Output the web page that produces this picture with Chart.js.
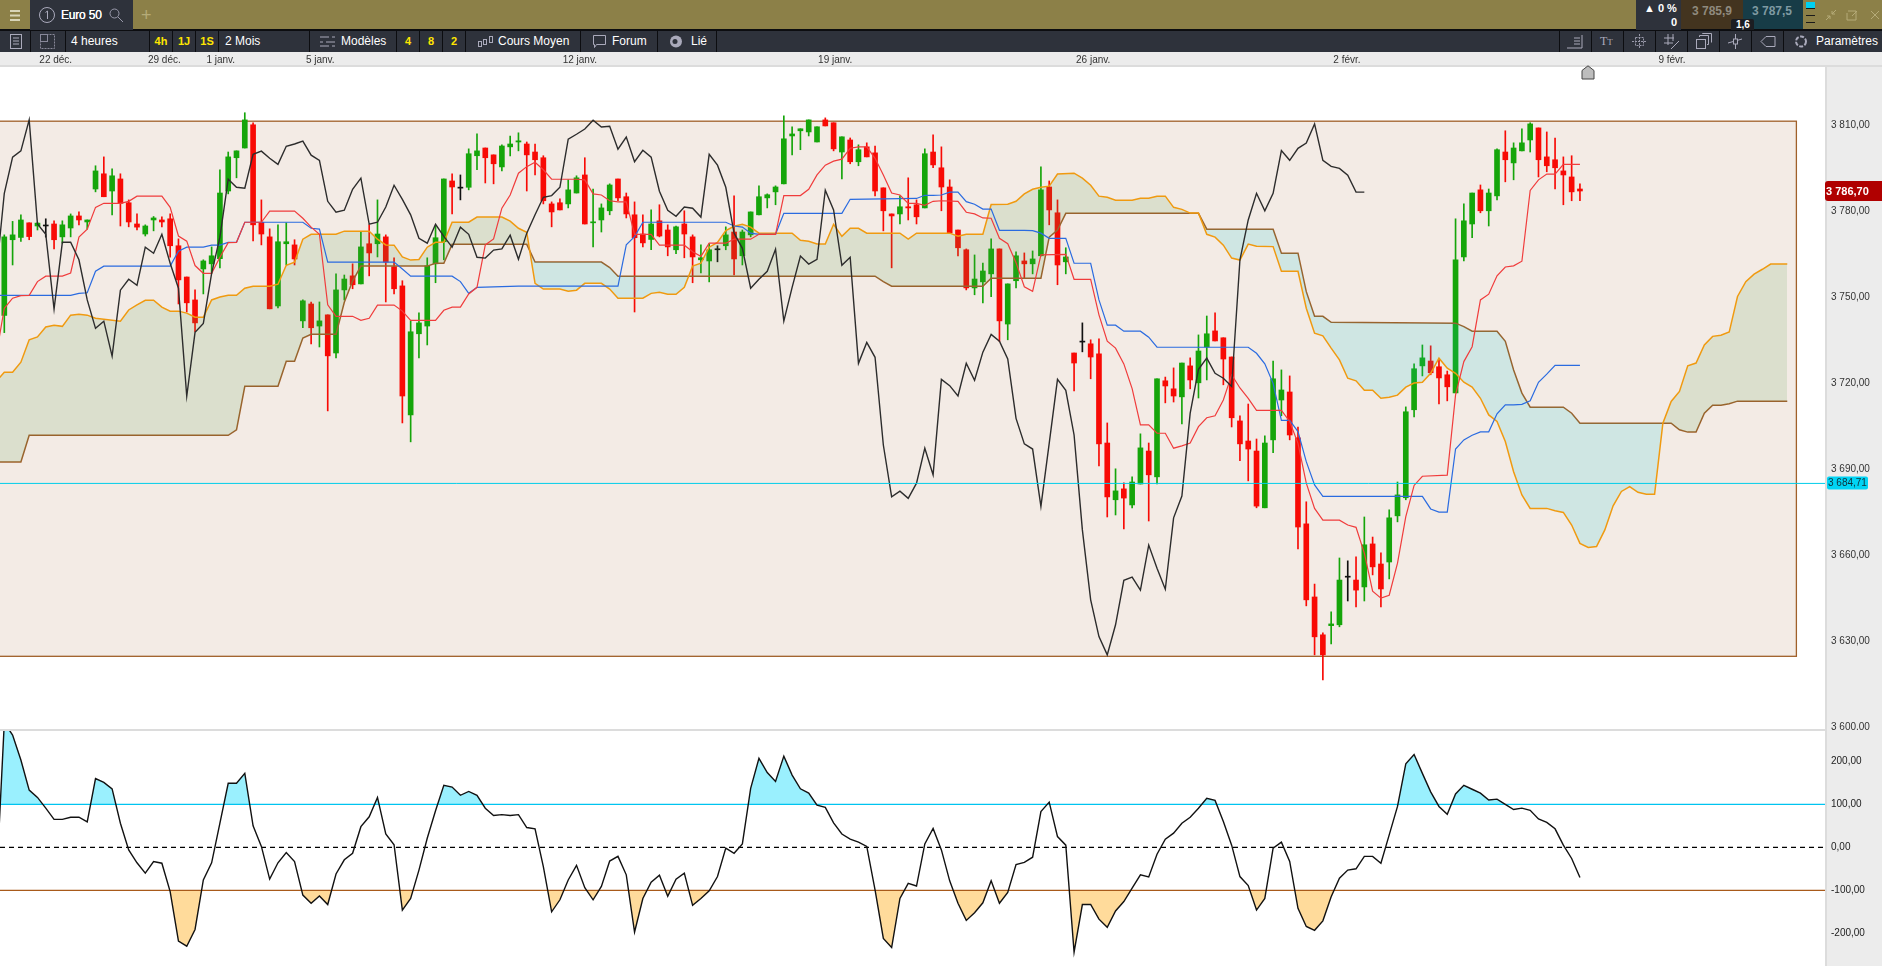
<!DOCTYPE html>
<html>
<head>
<meta charset="utf-8">
<title>Euro 50</title>
<script src="https://cdn.jsdelivr.net/npm/chart.js@4"></script>
<style>
html, body { margin: 0; padding: 0; width: 1882px; height: 966px; overflow: hidden; background: #fff; font-family: "Liberation Sans", Arial, sans-serif; }
.box { position: absolute; }
.txt { position: absolute; white-space: nowrap; color: #fff; font-size: 12px; line-height: 22px; }
.yel { color: #ffe600; font-weight: bold; font-size: 11px; text-align: center; }
.sep { position: absolute; top: 30px; width: 1px; height: 22px; background: #0c0d10; }
svg { position: absolute; }
canvas { position: absolute; left: 0; }
</style>
</head>
<body>
<div class="box" style="left:0;top:0;width:1882px;height:30px;background:#8c8048"></div>
<div class="box" style="left:0;top:29px;width:1882px;height:2px;background:#0c0d10"></div>
<div class="box" style="left:30px;top:0;width:103px;height:30px;background:#2e323b"></div>
<svg style="left:9px;top:9px" width="13" height="13"><path d="M1 2h10M1 6.5h10M1 11h10" stroke="#d8d4b8" stroke-width="2"/></svg>
<svg style="left:38px;top:6px" width="18" height="18"><circle cx="9" cy="9" r="7.5" fill="none" stroke="#aab" stroke-width="1"/><path d="M9.5 5v8M9.5 5l-2 1.5" stroke="#aab" fill="none"/></svg>
<div class="txt" style="left:61px;top:3px;line-height:24px;letter-spacing:-0.2px;text-shadow:0 0 0 #fff">Euro 50</div>
<svg style="left:108px;top:7px" width="16" height="16"><circle cx="6.5" cy="6.5" r="4.5" fill="none" stroke="#99a" stroke-width="1"/><path d="M10 10l5 5" stroke="#99a"/></svg>
<div class="txt" style="left:141px;top:3px;line-height:24px;font-size:18px;color:#b5ab78">+</div>

<div class="box" style="left:1636px;top:0;width:45px;height:30px;background:#2e323b"></div>
<div class="box" style="left:1681px;top:0;width:62px;height:29px;background:#43341f"></div>
<div class="box" style="left:1743px;top:0;width:60px;height:29px;background:#173c47"></div>
<div class="txt" style="left:1644px;top:1px;line-height:14px;font-size:11px;font-weight:bold">▲ 0 %</div>
<div class="txt" style="left:1671px;top:15px;line-height:14px;font-size:11px;font-weight:bold">0</div>
<div class="txt" style="left:1692px;top:3px;line-height:17px;font-weight:bold;color:#8f8a7e">3 785,9</div>
<div class="txt" style="left:1752px;top:3px;line-height:17px;font-weight:bold;color:#7f9aa2">3 787,5</div>
<div class="box" style="left:1731px;top:19px;width:23px;height:11px;background:#1b1d22;border-radius:2px 2px 0 0"></div>
<div class="txt" style="left:1736px;top:19px;line-height:12px;font-size:10px;font-weight:bold">1,6</div>
<div class="box" style="left:1806px;top:2px;width:9px;height:6px;background:#00d0f0"></div>
<div class="box" style="left:1806px;top:8px;width:9px;height:21px;background:repeating-linear-gradient(#1a1a1a 0 1px,#8c8048 1px 7px)"></div>
<svg style="left:1824px;top:8px" width="56" height="14" fill="none" stroke="#b5ab78"><path d="M2 12l4-4M12 2l-4 4M3 8h3v3M11 6H8V3"/><path d="M24 3h8v9h-9V5M28 8l5-5"/><path d="M47 3l8 8M55 3l-8 8"/></svg>

<div class="box" style="left:0;top:31px;width:1882px;height:21px;background:#2e323b"></div>
<div id="seps"></div>
<svg style="left:8px;top:33px" width="16" height="17" fill="none" stroke="#aab"><rect x="2.5" y="1.5" width="11" height="14"/><path d="M5 5h6M5 8h6M5 11h6"/></svg>
<svg style="left:39px;top:33px" width="17" height="17" fill="none" stroke="#889"><rect x="1.5" y="1.5" width="14" height="14" stroke-dasharray="2 1"/><rect x="1.5" y="1.5" width="7" height="7"/></svg>
<div class="txt" style="left:71px;top:30px">4 heures</div>
<div class="txt yel" style="left:150px;top:30px;width:22px">4h</div>
<div class="txt yel" style="left:173px;top:30px;width:22px">1J</div>
<div class="txt yel" style="left:196px;top:30px;width:22px">1S</div>
<div class="txt" style="left:225px;top:30px">2 Mois</div>
<svg style="left:319px;top:34px" width="17" height="15" stroke="#aab" fill="none"><path d="M1 3h9M13 3h3M1 8h3M7 8h9M1 12h9M13 12h3"/></svg>
<div class="txt" style="left:341px;top:30px">Modèles</div>
<div class="txt yel" style="left:397px;top:30px;width:22px">4</div>
<div class="txt yel" style="left:420px;top:30px;width:22px">8</div>
<div class="txt yel" style="left:443px;top:30px;width:22px">2</div>
<svg style="left:477px;top:34px" width="17" height="15" stroke="#aab" fill="none"><rect x="1.5" y="7.5" width="3" height="5"/><rect x="6.5" y="5.5" width="3" height="5"/><rect x="12.5" y="2.5" width="3" height="6"/></svg>
<div class="txt" style="left:498px;top:30px">Cours Moyen</div>
<svg style="left:592px;top:34px" width="15" height="15" stroke="#aab" fill="none"><path d="M1.5 1.5h12v9h-9l-2 3v-3h-1z"/></svg>
<div class="txt" style="left:612px;top:30px">Forum</div>
<svg style="left:669px;top:35px" width="15" height="13"><circle cx="7" cy="6.5" r="6" fill="#aab"/><circle cx="6" cy="6.5" r="2.5" fill="#2e323b"/></svg>
<div class="txt" style="left:691px;top:30px">Lié</div>
<svg style="left:1566px;top:34px" width="18" height="15" stroke="#aab" fill="none"><path d="M1 14h15V1M8 4h6M8 7h6M8 10h6"/></svg>
<div class="txt" style="left:1600px;top:30px;color:#aab;font-family:'Liberation Serif'">T<span style="font-size:9px">T</span></div>
<svg style="left:1631px;top:33px" width="17" height="17" stroke="#99a" fill="none" stroke-dasharray="2 1"><path d="M1 8.5h15M8.5 1v15"/><rect x="4.5" y="4.5" width="8" height="8"/></svg>
<svg style="left:1663px;top:33px" width="17" height="17" stroke="#aab" fill="none"><path d="M1 5h10M1 10h9M5 1v11M10 1v7M8 16l8-8"/></svg>
<svg style="left:1695px;top:33px" width="17" height="17" stroke="#aab" fill="none"><rect x="1.5" y="6.5" width="9" height="9"/><path d="M4.5 4V2.5h9v9H12M7.5 1V0.5h9v9"/></svg>
<svg style="left:1727px;top:33px" width="17" height="17" stroke="#aab" fill="none"><path d="M1 10l14-4M8.5 1v15"/><rect x="6.5" y="6" width="4" height="5" fill="#2e323b"/></svg>
<svg style="left:1760px;top:35px" width="16" height="13" stroke="#aab" fill="none"><path d="M15 1.5H6L1 6.5l5 5h9z"/></svg>
<svg style="left:1793px;top:33px" width="16" height="17" stroke="#aab" fill="none" stroke-width="2" stroke-dasharray="4 1.5"><circle cx="8" cy="8.5" r="5"/></svg>
<div class="txt" style="left:1816px;top:30px">Paramètres</div>

<div class="box" style="left:0;top:52px;width:1882px;height:13px;background:#ececec"></div>
<div class="box" style="left:0;top:65px;width:1882px;height:2px;background:#dcdcdc"></div>
<div class="box" style="left:1825px;top:67px;width:57px;height:899px;background:#ececec"></div>
<div class="box" style="left:1825px;top:67px;width:2px;height:899px;background:#dcdcdc"></div>

<canvas id="priceChart" width="1882" height="677" style="top:53px"></canvas>
<canvas id="cciChart" width="1882" height="236" style="top:730px"></canvas>
<div class="box" style="left:0;top:729px;width:1825px;height:2px;background:#dcdcdc"></div>
<svg style="left:1581px;top:65px" width="14" height="15"><path d="M1 5.5L7 .8l6 4.7v8.5H1z" fill="#bdbdbd" stroke="#444"/></svg>

<script>
var dateIdx = [6.2, 19.3, 26.1, 38.1, 69.4, 100.2, 131.3, 161.9, 201.1];
var dateLabels = ['22 déc.', '29 déc.', '1 janv.', '5 janv.', '12 janv.', '19 janv.', '26 janv.', '2 févr.', '9 févr.'];
var priceTicks = [3600, 3630, 3660, 3690, 3720, 3750, 3780, 3810];
var cciTicks = [-200, -100, 0, 100, 200];

var opens = [
    3743.3,3769.7,3770.5,3775.6,3774.5,3774.5,3775.2,3770.7,3773.8,3778,
    3775.9,3787.4,3792.7,3786.7,3790.9,3782.6,3775.2,3771.7,3776.6,3776.6,
    3777,3767.6,3756.7,3748.7,3759.5,3761.3,3763.1,3786.7,3798.3,3801.7,
    3809.8,3775.8,3770.7,3746.6,3768.3,3767.9,3741.4,3747.3,3739.6,3743.5,
    3730.2,3752.2,3757.1,3754.3,3768.3,3768.3,3770.7,3760.3,3753.6,3708.6,
    3736.9,3739.6,3761.3,3769,3790.2,3787.7,3788,3799,3801.7,3799.3,
    3795.1,3802.1,3803.8,3803.1,3800.3,3798.3,3782.2,3782.6,3782.2,3786,
    3792.3,3775.6,3776.6,3779.8,3790.9,3784.7,3778.4,3771.7,3769.8,3776.3,
    3773.1,3766.2,3775.2,3770.7,3762.7,3762.3,3766.2,3767.6,3772.4,3764.1,
    3771.4,3778.4,3784.3,3786.4,3789.2,3805.9,3807.7,3807.3,3803.8,3811.5,
    3810.5,3800.3,3804.5,3796.9,3802.1,3800,3787.8,3778.7,3778.7,3781.2,
    3781.9,3780.8,3800.3,3794.8,3788.1,3773.1,3766.2,3752.9,3755,3757.8,
    3766.5,3740.3,3755.4,3762.3,3761.3,3764.1,3788.1,3779.1,3762,3730.2,
    3734,3733.4,3729.9,3698.8,3679,3682.8,3677.2,3684.5,3696,3687,
    3720.5,3717.7,3714.9,3725.7,3719.8,3732.3,3737.9,3735.5,3728.8,3706.5,
    3699.5,3696,3676.2,3699.9,3713.8,3716.6,3700.6,3670.6,3645.1,3631.9,
    3635.1,3635.4,3652,3651,3648.6,3663.6,3656.6,3657.3,3673.4,3679.7,
    3710.4,3725.7,3727.4,3725.4,3722.6,3716.3,3763.7,3775.2,3787.1,3779.8,
    3785,3800.3,3796.5,3800.7,3804.5,3808.7,3798.6,3797.6,3793.7,3791.6,3787.4
];
var closes = [
    3770.7,3771.4,3776.6,3770.8,3775.5,3774.5,3769.7,3774.9,3778,3776.6,
    3776.6,3793.7,3784.7,3792,3782.4,3775.9,3774.1,3774.5,3777.3,3775.9,
    3767.6,3755.7,3747.7,3740.7,3762.3,3764.1,3786,3798.6,3800.7,3811.5,
    3774.9,3771.7,3745.6,3769,3769,3763,3748.4,3739,3741.4,3729.2,
    3752.2,3756,3754,3767.2,3765.1,3771.7,3761.9,3752.6,3715.2,3737.6,
    3740.7,3760.6,3770.4,3790.9,3788.1,3787.7,3799.7,3800.7,3798.3,3796.2,
    3802.4,3803.1,3804.2,3799.3,3797.6,3783.3,3779.4,3780.1,3787.1,3791.3,
    3775.2,3775.9,3780.8,3788.8,3784.3,3778.7,3770.4,3768.6,3775.2,3771,
    3767.2,3774.2,3771.7,3763.7,3763.4,3766.2,3766.2,3771.4,3763,3772.4,
    3779.4,3784.7,3785.4,3788.1,3804.9,3806.6,3808.4,3811.5,3809.1,3809.4,
    3801.4,3805.6,3796.9,3801.1,3798.6,3786.7,3779.8,3778,3781.2,3780.8,
    3777.7,3799.7,3795.8,3788.1,3772.1,3766.9,3752.9,3756,3758.8,3766.5,
    3741.4,3754.3,3764.1,3761.3,3763,3787.1,3780.1,3760.9,3763.7,3726.7,
    3734,3728.8,3698.5,3680,3682.1,3679.6,3685.2,3697.1,3687.7,3721.2,
    3718.7,3715.2,3726.7,3720.8,3730.9,3736.9,3734.4,3728.1,3707.6,3698.5,
    3696.7,3676.8,3698.8,3721.2,3717.3,3701.6,3669.5,3644.1,3631.2,3624.9,
    3635.7,3651,3652,3647.5,3663.3,3655.6,3647.9,3672.7,3680.7,3709.7,
    3724.7,3728.5,3723.3,3721.5,3718.4,3762.7,3776.3,3786,3779.8,3786,
    3801.1,3797.6,3801.7,3803.5,3810.1,3797.6,3795.5,3794.8,3792.3,3786.4,3786.7
];
var highs = [
    3771.4,3776.1,3778.4,3775.6,3775.7,3777,3776.3,3776.3,3778.7,3779.4,
    3776.6,3795.5,3798.6,3794.4,3792.7,3783.6,3778.7,3774.9,3777.8,3777.7,
    3778.7,3770,3756.7,3752.2,3762.7,3767.2,3794.1,3800.3,3800.7,3814,
    3810.5,3783.6,3773.5,3774.9,3775.6,3769.7,3748.7,3748,3748,3743.5,
    3757.8,3757.4,3761.3,3772.4,3774.9,3783.6,3771.4,3763.4,3755.4,3741.4,
    3744.2,3763.4,3774.5,3790.9,3792.7,3792.3,3801.4,3806.6,3801.7,3799.3,
    3802.8,3805.9,3807,3803.8,3803.1,3799,3782.9,3784,3790.6,3792,
    3798.3,3787.4,3782.2,3789.2,3790.9,3786,3782.9,3778.4,3780.1,3781.9,
    3774.9,3774.5,3779.8,3771.4,3767.9,3768.3,3767.6,3774.2,3785,3773.1,
    3779.4,3788.5,3785.7,3788.5,3812.9,3809.1,3808.4,3811.5,3809.1,3812.2,
    3810.5,3805.6,3805.2,3802.8,3803.5,3802.4,3787.8,3778.7,3785,3791.3,
    3783.6,3801.4,3806.3,3802.1,3790.6,3773.1,3766.5,3764.4,3761.6,3770,
    3766.5,3754.3,3765.5,3765.1,3765.8,3795.1,3790.2,3783.6,3766.9,3730.2,
    3740.7,3734.8,3735.1,3705.8,3689.8,3684.9,3687,3702,3698.8,3721.2,
    3721.8,3725,3726.7,3728.5,3736.5,3743.1,3744.2,3735.5,3728.8,3708.3,
    3712.4,3700.2,3701.3,3727.4,3724.3,3722.2,3704.4,3678.3,3649.6,3632.6,
    3639.9,3658.7,3657.7,3659.1,3673,3666,3660.5,3675.5,3685.2,3711.4,
    3726.4,3733,3732.7,3728.1,3723.9,3777,3782.2,3786,3788.8,3787.4,
    3801.4,3807.7,3803.5,3808.4,3810.5,3808.7,3807.3,3805.2,3798.6,3799,3789.2
];
var lows = [
    3737.3,3760.9,3769.1,3769.7,3773.1,3770.6,3766.5,3768.5,3770.7,3774.9,
    3773.4,3786.4,3784.7,3778.4,3774.5,3774.2,3773.1,3771,3772.8,3774.2,
    3763.6,3747.3,3744.5,3737.6,3750.8,3758,3759.9,3785.7,3791.3,3801.7,
    3769.3,3767.9,3745.6,3745.9,3760.9,3760.9,3739,3733.4,3732.3,3710,
    3728.5,3748.7,3752.6,3754.3,3757.1,3763.7,3748,3750.8,3705.8,3699.2,
    3728.5,3733,3754.7,3762.7,3778.7,3783.6,3787.1,3794.1,3789.5,3789.2,
    3793.7,3798.9,3800.7,3786.7,3792.3,3782.2,3774.2,3780.1,3780.8,3786,
    3775.2,3767.2,3772.4,3778.4,3783.3,3777.3,3744.5,3767.2,3766.2,3770.7,
    3764.1,3764.8,3763.4,3754.7,3758.1,3755,3762,3766.2,3757.4,3760.9,
    3770.7,3778.4,3780.8,3781.9,3789.2,3799.3,3801.1,3805.9,3803.8,3809.4,
    3800.7,3790.9,3796.2,3795.5,3798.6,3785,3772.8,3759.9,3775.2,3776.6,
    3775.2,3780.8,3794.8,3779.8,3772.1,3764.1,3752.2,3750.5,3747.7,3749.8,
    3734.2,3734.8,3752.9,3756.4,3757.8,3764.1,3774.9,3754,3757.8,3717,
    3730.6,3721.2,3690.8,3673,3673.7,3668.8,3676.2,3684.5,3671.6,3684.5,
    3712.8,3713.1,3705.5,3717.7,3714.5,3720.8,3734.4,3719.1,3704.4,3692.6,
    3685.6,3676.2,3676.2,3695.4,3708.3,3699.9,3661.9,3642,3624.9,3616.2,
    3628.7,3634.7,3643.7,3641.6,3643.7,3652.8,3641.6,3651.4,3671.3,3679,
    3707.9,3722.2,3722.6,3712.4,3713.5,3716.3,3762.3,3770.4,3779.1,3774.5,
    3783.6,3789.9,3790.6,3800.7,3800.3,3791.6,3793.4,3787.4,3781.9,3783.3,3783.3
];

// [bar, price] at each corner of the line
var tenkan = [[-1,3729],[0,3745.8],[1,3749.3],[2,3750.2],[3,3750.3],[4,3755.1],[5,3757],[7,3757],[8,3758.1],[9,3770.6],[10,3773.4],[11,3781],[12,3782.4],[14,3782.4],[15,3783.1],[16,3784.9],[19,3784.9],[20,3781],[21,3771],[22,3769.2],[23,3760.7],[24,3758],[25,3758],[26,3763.6],[27,3768.7],[28,3768.8],[29,3775.8],[31,3775.8],[32,3779.7],[35,3779.7],[36,3777.2],[37,3774.1],[38,3771.6],[39,3747],[40,3743],[42,3743],[43,3741.6],[44,3742.3],[45,3746.9],[47,3746.9],[48,3744.8],[49,3741.6],[52,3741.6],[53,3745.1],[54,3746.2],[55,3746.2],[56,3750.8],
    [57,3753.1],[58,3767.9],[59,3770],[60,3780.7],[61,3785.3],[62,3792.9],[63,3795.2],[64,3796.7],[65,3794.1],[66,3790.8],[69,3790.8],[70,3790.6],[71,3785.7],[72,3785.3],[73,3783.3],[74,3782.9],[75,3782.9],[76,3771.6],[78,3771.6],[79,3767.8],[82,3767.8],[83,3765.5],[84,3763.9],[85,3768.5],[87,3768.5],[88,3769.9],[90,3769.9],[91,3771.6],[93,3771.6],[94,3785.1],[96,3785.1],[97,3787.3],[98,3792.3],[99,3795.7],[100,3797.1],[101,3797.8],[102,3801.6],[103,3802.1],[104,3802.1],[105,3798.1],[106,3792.3],[107,3786],[108,3785.3],[109,3782.4],[110,3782.4],[111,3781.7],[112,3783.1],
    [113,3783.3],[115,3783.1],[116,3779.3],[117,3778.7],[118,3777.3],[119,3777.2],[120,3770.2],[121,3768.3],[122,3761.7],[123,3753.3],[124,3751.7],[125,3764.4],[128,3764.6],[129,3755.9],[131,3755.9],[132,3743.5],[133,3734.3],[134,3731.9],[135,3726.4],[136,3717.8],[137,3705.1],[138,3705.1],[139,3702.2],[140,3702.2],[141,3697],[142,3697.8],[143,3698.8],[144,3704.5],[145,3707.6],[146,3708.3],[147,3713.8],[148,3722.6],[149,3718],[150,3714.4],[151,3710.2],[154,3710.2],[155,3706.3],[156,3698.7],[157,3684.8],[158,3676],[159,3671.9],[161,3671.9],[162,3670.2],[163,3669.4],[164,3660.4],[165,3647.1],[166,3644.7],[167,3645.7],[168,3656.9],[169,3673.1],[170,3684],[171,3687.2],[174,3687.6],
    [175,3715.6],[176,3727.2],[177,3732.4],[178,3748.7],[179,3750.7],[180,3757.1],[181,3760.2],[182,3760.6],[183,3762.2],[184,3786.9],[185,3790.6],[186,3792.6],[187,3792.6],[188,3796],[190,3796]];

var kijun = [[-1,3750.3],[8,3750.3],[9,3751],[10,3751.2],[11,3758.7],[12,3760.5],[20,3760.5],[21,3765.7],[22,3767.1],[24,3767.1],[25,3767.8],[26,3767.8],[27,3768.8],[28,3768.8],[29,3775.8],[36,3775.8],[37,3773.7],[38,3773.4],[39,3761.9],[47,3761.9],[48,3759.5],[49,3757],[54,3757],[55,3755.1],[56,3751],[57,3753.1],[62,3753.5],[74,3753.5],[75,3767.9],[76,3770.8],[77,3775.8],[87,3775.8],[88,3774.5],[89,3774.1],[90,3772],[91,3771.6],[93,3771.6],[94,3778.9],[101,3778.9],[102,3783.8],[110,3784.1],[111,3785.2],[112,3785.2],
    [113,3785.3],[114,3786.3],[115,3786.3],[116,3783],[117,3782.1],[118,3780.4],[119,3780.4],[120,3773],[123,3773],[124,3772.9],[125,3772],[126,3770.2],[128,3770.2],[129,3761.5],[131,3761.5],[132,3748.7],[133,3739.9],[134,3739.9],[135,3737.8],[137,3737.8],[138,3735.7],[139,3732.2],[150,3732.2],[151,3730.1],[152,3726.4],[153,3719.6],[154,3706.7],[155,3706.7],[156,3702.8],[157,3692.3],[158,3684.2],[159,3680.2],[171,3680.2],[172,3675.8],[173,3674.7],[174,3674.7],
    [175,3696.7],[176,3699.9],[177,3701.5],[178,3702.7],[179,3702.7],[180,3709],[181,3712.1],[182,3712.1],[183,3712.3],[184,3713.5],[185,3720],[186,3722.8],[187,3725.9],[190,3725.9]];

var senkouA = [[-1,3720.2],[0,3723.5],[1,3723.5],[2,3727],[3,3734.8],[4,3735.8],[5,3739.3],[6,3739.9],[7,3739.5],[8,3743.4],[9,3743.7],[10,3743.4],[11,3742.3],[12,3742],[14,3741.3],[15,3745.2],[16,3747],[17,3748.6],[18,3748.6],[19,3746.2],[20,3744.8],[21,3744.8],[22,3744.1],[23,3742.7],[24,3742.7],[25,3748.7],[26,3749.7],[27,3750.3],[28,3750.3],[29,3752.8],[30,3753.5],[32,3753.5],[33,3754.2],[34,3760.8],[35,3761.9],[36,3769.9],[37,3771.6],[40,3771.6],[41,3772.7],[44,3772.7],[45,3769.9],[46,3767.9],[47,3767.8],[48,3763.7],[49,3762.6],[50,3762.8],[51,3767.1],[52,3768.8],[53,3768.8],[54,3775.8],[56,3775.8],
    [57,3777.6],[60,3777.6],[61,3776.2],[62,3773.7],[63,3772.3],[64,3754.5],[65,3752.5],[67,3752.5],[68,3751.7],[69,3752.1],[70,3754.5],[72,3754.5],[73,3752.5],[74,3749.3],[77,3749.3],[78,3751],[79,3751.4],[80,3750.7],[81,3750.7],[82,3753.1],[83,3760.5],[84,3761.5],[85,3767.1],[86,3768.8],[87,3772.9],[88,3774.4],[89,3775.1],[90,3774.1],[91,3772],[95,3772],[96,3769.5],[97,3769.2],[98,3768.2],[99,3768.2],[100,3775.1],[101,3770.9],[102,3773.7],[103,3773.7],[104,3772],[108,3772],[109,3769.9],[110,3772],[114,3772],[115,3770.9],[116,3771.6],[118,3771.6],[119,3782],[121,3782.1],[122,3783.1],[123,3785.7],[124,3787.3],[125,3788],[126,3788.4],[127,3792.6],[129,3792.9],[130,3791.2],[131,3788.7],[132,3784.9],[133,3784.5],[134,3783.5],[136,3783.5],[137,3784.2],[138,3784.2],[139,3784.9],[140,3784.9],[141,3781],[142,3780.3],[143,3779],[144,3779],[145,3771.6],[146,3770.6],[147,3767.8],[148,3763.3],[149,3762.6],[150,3768.2],[151,3767.4],[153,3767.3],[154,3758.7],[156,3758.7],[157,3745.8],[158,3737.1],[159,3736.2],[160,3731.9],[161,3727.8],[162,3721.4],[163,3720.5],[164,3717.2],[165,3717.2],[166,3714.4],[167,3714.8],[168,3715.5],[169,3718.3],[170,3719.7],[171,3720],[172,3723.1],[173,3728.4],[174,3724.9],[175,3723.1],[176,3720],[177,3718.3],[178,3714.4],[179,3708.6],[180,3706.3],[181,3699.3],[182,3688.8],[183,3680.7],[184,3676],[186,3676],[187,3675.2],[188,3674.6],[189,3670.2],[190,3663.8],[191,3662.4],[192,3662.7],[193,3668.5],[194,3676.9],[195,3681.9],[196,3683.6],[197,3681.6],[198,3680.9],[199,3680.9],[200,3705.7],[201,3713.3],[202,3716.8],[203,3725.7],[204,3726.7],[205,3733],[206,3736],[207,3736.4],[208,3737.5],[209,3749.9],[210,3755.1],[211,3757.7],[212,3759.4],[213,3761.2],[215,3761.2]];

var senkouB = [[-1,3692.2],[2,3692.2],[3,3701.5],[27,3701.5],[28,3703.4],[29,3718.6],[33,3718.6],[34,3727.3],[35,3727.3],[36,3735.4],[37,3736.7],[40,3736.7],[41,3747.9],[42,3755.3],[43,3760.5],[51,3760.5],[52,3761.5],[53,3761.5],[54,3768.1],[63,3768.1],[64,3761.9],[72,3761.9],[73,3760],[74,3757],[105,3757],[106,3755.1],[107,3753.5],[118,3753.5],[119,3756.3],[125,3756.3],[126,3770.6],[127,3773.1],[128,3778.9],[144,3778.9],[145,3773.4],[153,3773.4],[154,3765],[156,3765],[157,3751.6],[158,3743],[159,3743],[160,3740.9],[175,3740.6],[176,3739.4],[177,3737.8],[180,3737.8],[181,3734.3],[182,3724.3],[183,3716.2],[184,3711.3],[188,3711.3],[189,3709.2],[190,3705.7],[201,3705.7],[202,3703.4],[203,3702.6],[204,3702.6],[205,3709.2],[206,3712],[207,3712],[208,3712.5],[209,3713.4],[215,3713.4]];

// chikou runs from bar -1 up to bar 164
var chikou = [3756.9,3785.9,3798.5,3800.7,3811.5,3775.2,3771.6,3745.5,3768.8,3768.8,3762.7,3748.7,3738.8,3741.3,3729.1,3752.1,3755.9,3753.8,3767.1,3765,3771.6,3761.5,3752.8,3715.1,3737.4,3740.5,3758,3770.6,3790.8,3788,3787.7,3799.5,3800.6,3798.1,3796,3802.3,3803.1,3804.1,3799.2,3797.4,3783.1,3779.3,3780,3787.3,3791.2,3775.1,3775.8,3781.1,3788.7,3783.8,3778.4,3770.2,3768.5,3775.1,3770.9,3767.1,3774.1,3771.6,
    3763.6,3763.3,3766.1,3766.5,3771.3,3762.9,3772,3778.4,3784.5,3785.1,3788,3804.8,3806.5,3808.3,3811.4,3809,3809.3,3801.3,3805.5,3796.9,3800.9,3798.5,3786.6,3780,3777.9,3781.1,3780.7,3777.6,3799.5,3795.7,3788,3772,3766.7,3752.8,3755.9,3758.7,3766.4,3741.3,3753.1,3764,3761.2,3762.9,3787,3780.1,3760.8,3763.6,3726.6,3733.9,3728.7,3698.1,3680,3682,3679.5,3684.8,3697,3687.7,
    3721,3718.8,3715.2,3726.6,3720.7,3730.5,3736.7,3734.3,3728.1,3707.4,3698.5,3696.7,3676.7,3698.7,3721,3717.2,3701.6,3668.5,3644.1,3631.3,3624.9,3635.4,3650.9,3652,3647.5,3663.2,3655.1,3647.8,3672.7,3680.3,3709.2,3724.5,3728.4,3723.1,3721.4,3718.5,3762.7,3776.6,3785.9,3779.8,3785.9,3800.8,3797.4,3801.6,3803.4,3810.1,3797.4,3795.3,3794.6,3792.2,3786.3,3786.3];

// cci runs from bar -1 up to bar 190
var cci = [-100,290,261,203,133,116,91,65,65,70,70,59,160,151,136,56,-6,-36,-60,-33,-37,-103,-218,-230,-191,-76,-36,56,149,149,172,50,2,-74,-36,-12,-33,-111,-130,-113,-133,-62,-29,-14,48,71,116,31,6,-146,-119,-53,21,85,144,140,121,130,121,91,74,76,74,76,46,43,-45,-150,-122,-76,-42,-94,-122,-91,-32,-21,-64,
    -197,-119,-81,-65,-114,-74,-60,-135,-119,-101,-68,-2,-14,8,137,207,174,153,212,168,136,126,98,93,57,31,19,12,2,-99,-212,-233,-119,-84,-90,8,44,-6,-78,-130,-170,-152,-129,-78,-130,-105,-40,-35,-23,83,105,25,5,-244,-133,-133,-167,-186,-148,-126,-95,-64,-69,-16,19,33,56,70,91,114,109,60,5,-68,-89,-146,
    -119,-2,12,-33,-142,-184,-193,-171,-115,-72,-53,-50,-21,-21,-37,29,95,194,216,172,129,95,77,124,144,135,126,110,112,100,88,91,86,66,58,43,5,-26,-70];

var lastPrice = 3786.7;
var hLinePrice = 3684.71;
var boxTop = 3811.05;
var boxBottom = 3624.4;
var boxEnd = 216.1;
var cciHigh = 100;
var cciZero = 0;
var cciLow = -100;

// same bar to pixel mapping for both panes
var xMin = -0.519;
var xMax = 219.55;
var axisWidth = 57;

function frNumber(v) {
    var s = v.toFixed(2).replace('.', ',');
    return s.replace(/^(\d)(\d{3})/, '$1 $2');
}

function pairsToPoints(pairs) {
    return pairs.map(function(p) { return {x: p[0], y: p[1]}; });
}

function seriesFrom(values, firstBar) {
    return values.map(function(v, i) { return {x: i + firstBar, y: v}; });
}

function candleColor(i) {
    if (opens[i] == closes[i]) return '#111111';
    return closes[i] > opens[i] ? '#15a50a' : '#f80a05';
}

function lineSet(points, color, width, order) {
    return {
        type: 'line',
        data: points,
        borderColor: color,
        borderWidth: width,
        pointRadius: 0,
        tension: 0,
        fill: false,
        order: order
    };
}

// y axis keeps its size, no room for half labels above and below
function fitRightAxis(scale) {
    scale.width = axisWidth;
    scale.paddingTop = 0;
    scale.paddingBottom = 0;
}

var wickData = highs.map(function(h, i) { return {x: i, y: [lows[i], h]}; });
var bodyData = opens.map(function(o, i) { return {x: i, y: [o, closes[i]]}; });
var barColors = opens.map(function(o, i) { return candleColor(i); });

var boxPlugin = {
    id: 'boxPlugin',
    beforeDatasetsDraw: function(chart) {
        var ctx = chart.ctx, x = chart.scales.x, y = chart.scales.y;
        var right = x.getPixelForValue(boxEnd);
        var top = y.getPixelForValue(boxTop);
        var bottom = y.getPixelForValue(boxBottom);
        ctx.save();
        ctx.fillStyle = '#f3ebe5';
        ctx.fillRect(-5, top, right + 5, bottom - top);
        ctx.strokeStyle = '#a0602a';
        ctx.lineWidth = 1.3;
        ctx.strokeRect(-5, top, right + 5, bottom - top);
        ctx.restore();
    }
};

var tagPlugin = {
    id: 'tagPlugin',
    afterDraw: function(chart) {
        var ctx = chart.ctx, y = chart.scales.y;
        var py = y.getPixelForValue(lastPrice);
        ctx.save();
        ctx.fillStyle = '#b00000';
        ctx.beginPath();
        ctx.roundRect(1825, py - 10, 57, 20, [3, 0, 0, 3]);
        ctx.fill();
        ctx.fillStyle = '#ffffff';
        ctx.font = 'bold 11px "Liberation Sans"';
        ctx.textBaseline = 'middle';
        ctx.fillText(frNumber(lastPrice), 1826, py + 0.5);
        py = y.getPixelForValue(hLinePrice);
        ctx.fillStyle = '#00d4f5';
        ctx.beginPath();
        ctx.roundRect(1827, py - 7, 41, 13, 2);
        ctx.fill();
        ctx.fillStyle = '#10303a';
        ctx.font = '10px "Liberation Sans"';
        ctx.fillText(frNumber(hLinePrice), 1828, py);
        ctx.restore();
    }
};

function makePriceChart() {
    var ctx = document.getElementById('priceChart');
    return new Chart(ctx, {
        data: {
            datasets: [
                {type: 'bar', data: wickData, backgroundColor: barColors, barThickness: 1, grouped: false, minBarLength: 1, order: 7},
                {type: 'bar', data: bodyData, backgroundColor: barColors, barThickness: 5, grouped: false, minBarLength: 1, order: 6},
                lineSet(pairsToPoints(senkouB), '#a0602a', 1.5, 5),
                Object.assign(lineSet(pairsToPoints(senkouA), '#f09a10', 1.5, 4), {
                    fill: {target: 2, above: 'rgba(90,155,69,0.15)', below: 'rgba(9,201,216,0.15)'}
                }),
                lineSet(pairsToPoints(kijun), '#2a6be0', 1.2, 3),
                lineSet(pairsToPoints(tenkan), '#f03c3c', 1.2, 2),
                lineSet(seriesFrom(chikou, -1), '#2c2c2c', 1.4, 1),
                lineSet([{x: xMin, y: hLinePrice}, {x: xMax, y: hLinePrice}], '#00cdea', 1, 0)
            ]
        },
        options: {
            responsive: false,
            animation: false,
            layout: {padding: 0},
            plugins: {legend: {display: false}, tooltip: {enabled: false}},
            scales: {
                x: {
                    type: 'linear',
                    position: 'top',
                    offset: false,
                    min: xMin,
                    max: xMax,
                    grid: {display: false, drawTicks: false},
                    border: {display: false},
                    afterBuildTicks: function(scale) {
                        scale.ticks = dateIdx.map(function(v) { return {value: v}; });
                    },
                    afterFit: function(scale) {
                        scale.height = 13;
                        scale.paddingLeft = 0;
                        scale.paddingRight = 0;
                    },
                    ticks: {
                        autoSkip: false,
                        maxRotation: 0,
                        padding: 0,
                        color: '#333',
                        font: {family: 'Liberation Sans', size: 10},
                        callback: function(v, i) { return dateLabels[i]; }
                    }
                },
                y: {
                    position: 'right',
                    min: 3598.7,
                    max: 3830.3,
                    grid: {display: false, drawTicks: false},
                    border: {display: false},
                    afterBuildTicks: function(scale) {
                        scale.ticks = priceTicks.map(function(v) { return {value: v}; });
                    },
                    afterFit: fitRightAxis,
                    ticks: {
                        padding: 6,
                        labelOffset: 1,
                        color: '#333',
                        font: {family: 'Liberation Sans', size: 10},
                        callback: function(v) { return frNumber(v); }
                    }
                }
            }
        },
        plugins: [boxPlugin, tagPlugin]
    });
}

function makeCciChart() {
    var ctx = document.getElementById('cciChart');
    var points = seriesFrom(cci, -1);
    return new Chart(ctx, {
        data: {
            datasets: [
                Object.assign(lineSet(points, 'transparent', 0, 5), {
                    fill: {target: {value: cciHigh}, above: '#9af0fe', below: 'transparent'}
                }),
                Object.assign(lineSet(points, 'transparent', 0, 4), {
                    fill: {target: {value: cciLow}, above: 'transparent', below: '#ffdb9b'}
                }),
                lineSet([{x: xMin, y: cciHigh}, {x: xMax, y: cciHigh}], '#00c4f0', 1.2, 3),
                lineSet([{x: xMin, y: cciLow}, {x: xMax, y: cciLow}], '#a85a1a', 1.2, 3),
                Object.assign(lineSet([{x: xMin, y: cciZero}, {x: xMax, y: cciZero}], '#000000', 1.2, 2), {borderDash: [5, 4]}),
                lineSet(points, '#111111', 1.4, 1)
            ]
        },
        options: {
            responsive: false,
            animation: false,
            layout: {padding: 0},
            plugins: {legend: {display: false}, tooltip: {enabled: false}},
            scales: {
                x: {type: 'linear', min: xMin, max: xMax, display: false},
                y: {
                    position: 'right',
                    min: -276,
                    max: 272.8,
                    grid: {display: false, drawTicks: false},
                    border: {display: false},
                    afterBuildTicks: function(scale) {
                        scale.ticks = cciTicks.map(function(v) { return {value: v}; });
                    },
                    afterFit: fitRightAxis,
                    ticks: {
                        padding: 6,
                        color: '#222',
                        font: {family: 'Liberation Sans', size: 10},
                        callback: function(v) { return frNumber(v); }
                    }
                }
            }
        }
    });
}

var sepX = [30, 65, 149, 172, 195, 218, 309, 396, 419, 442, 465, 580, 657, 716, 1559, 1591, 1623, 1655, 1687, 1719, 1751, 1783];
var sepHtml = '';
for (var i = 0; i < sepX.length; i++) {
    sepHtml += '<div class="sep" style="left:' + sepX[i] + 'px"></div>';
}
document.getElementById('seps').innerHTML = sepHtml;

makePriceChart();
makeCciChart();
</script>
</body>
</html>
